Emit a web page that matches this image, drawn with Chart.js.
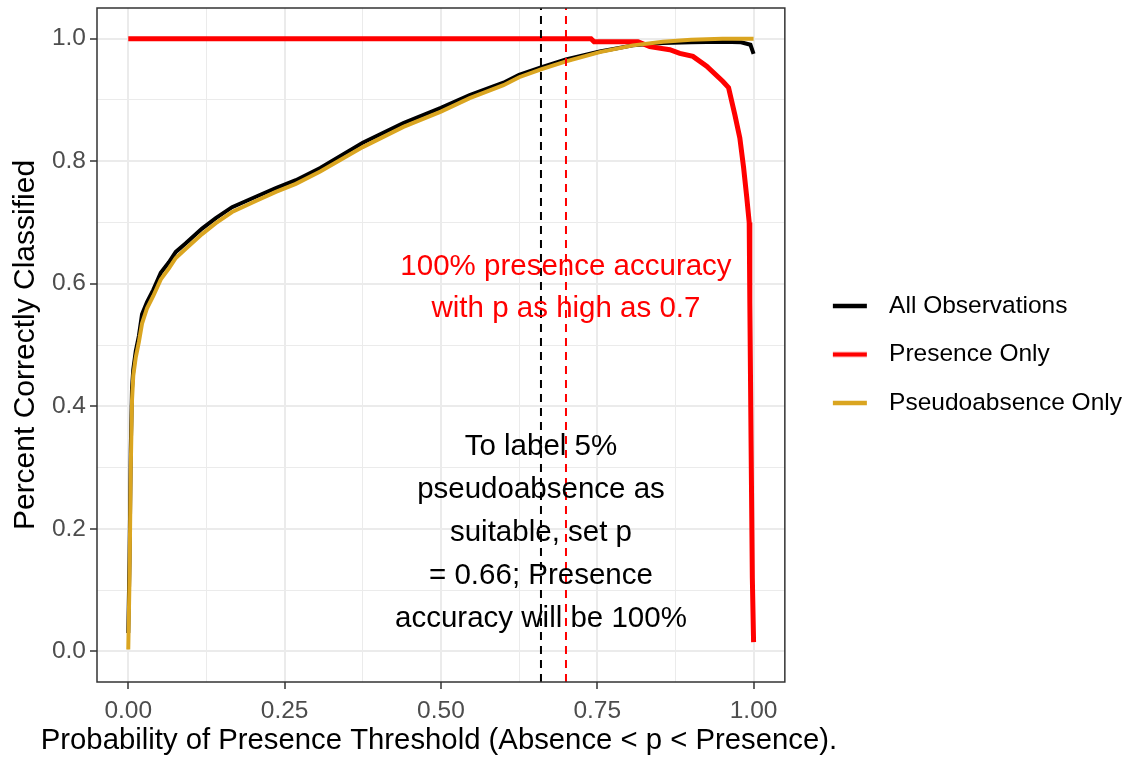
<!DOCTYPE html>
<html>
<head>
<meta charset="utf-8">
<script src="https://cdn.jsdelivr.net/npm/chart.js@4.4.1/dist/chart.umd.min.js"></script>
<style>
  html, body { margin: 0; padding: 0; background: #fff; }
</style>
</head>
<body>
<canvas id="thresholds" width="1132" height="757"></canvas>
<script>
// thresholds shared by the two curves that follow the pseudoabsences
const thresholds = [0, 0.002, 0.004, 0.006, 0.008, 0.012, 0.017, 0.022, 0.03, 0.04, 0.052, 0.065, 0.076, 0.092,
    0.118, 0.14, 0.166, 0.204, 0.236, 0.268, 0.307, 0.375, 0.44, 0.5, 0.546, 0.6, 0.625, 0.66, 0.7, 0.754,
    0.807, 0.855, 0.9, 0.95, 0.98, 0.995, 1.0];
const allObs = [0.03, 0.15, 0.33, 0.43, 0.46, 0.49, 0.515, 0.55, 0.57, 0.59, 0.618, 0.635, 0.652, 0.666,
    0.69, 0.707, 0.725, 0.742, 0.756, 0.769, 0.789, 0.83, 0.862, 0.887, 0.908, 0.928, 0.941, 0.953, 0.966, 0.979,
    0.989, 0.993, 0.994, 0.995, 0.994, 0.99, 0.975];
const pseudoOnly = [0.003, 0.12, 0.3, 0.41, 0.45, 0.48, 0.505, 0.535, 0.56, 0.58, 0.607, 0.625, 0.642, 0.657,
    0.681, 0.699, 0.717, 0.735, 0.75, 0.763, 0.783, 0.823, 0.856, 0.881, 0.903, 0.924, 0.937, 0.95, 0.963, 0.978,
    0.989, 0.995, 0.998, 1.0, 1.0, 1.0, 1.0];

const presenceX = [0, 0.74, 0.745, 0.815, 0.834, 0.866, 0.882, 0.903, 0.925, 0.951, 0.96, 0.97, 0.978,
    0.984, 0.989, 0.993, 0.994, 0.996, 0.998, 1.0];
const presenceY = [1.0, 1.0, 0.995, 0.995, 0.987, 0.982, 0.976, 0.971, 0.955, 0.93, 0.92, 0.876, 0.838,
    0.79, 0.742, 0.70, 0.57, 0.34, 0.12, 0.015];

const seriesNames = ['All Observations', 'Presence Only', 'Pseudoabsence Only'];
const seriesColors = ['#000000', '#ff0000', '#daa520'];

const xMajor = [0, 0.25, 0.5, 0.75, 1];
const xTickLabels = ['0.00', '0.25', '0.50', '0.75', '1.00'];
const xMinor = [0.125, 0.375, 0.625, 0.875];
const yMajor = [0, 0.2, 0.4, 0.6, 0.8, 1.0];
const yTickLabels = ['0.0', '0.2', '0.4', '0.6', '0.8', '1.0'];
const yMinor = [0.1, 0.3, 0.5, 0.7, 0.9];

const xTitle = 'Probability of Presence Threshold (Absence < p < Presence).';

// dashed threshold lines
const cutoffs = [0.66, 0.70];
const cutoffColors = ['#000000', '#ff0000'];

const noteRed = ['100% presence accuracy', 'with p as high as 0.7'];
const noteRedAt = [0.7, 0.6];
const noteBlack = ['To label 5%', 'pseudoabsence as', 'suitable, set p', '= 0.66; Presence', 'accuracy will be 100%'];
const noteBlackAt = [0.66, 0.2];

const FONT = '"Liberation Sans", Arial, sans-serif';
Chart.defaults.font.family = FONT;

const toPoints = (xs, ys) => xs.map((x, i) => ({x: x, y: ys[i]}));

function legendKey(color) {
    const c = document.createElement('canvas');
    c.width = 68;
    c.height = 8;
    const g = c.getContext('2d');
    g.strokeStyle = color;
    g.lineWidth = 4.5;
    g.beginPath();
    g.moveTo(24, 4);
    g.lineTo(58, 4);
    g.stroke();
    return c;
}

const extras = {
    id: 'extras',
    afterDatasetsDraw(chart) {
        const {ctx, chartArea, scales: {x, y}} = chart;
        ctx.save();
        cutoffs.forEach((v, i) => {
            const px = x.getPixelForValue(v);
            ctx.strokeStyle = cutoffColors[i];
            ctx.lineWidth = 2;
            ctx.setLineDash([8, 6]);
            ctx.beginPath();
            ctx.moveTo(px, chartArea.bottom);
            ctx.lineTo(px, chartArea.top);
            ctx.stroke();
        });
        ctx.setLineDash([]);

        ctx.font = '29.5px ' + FONT;
        ctx.textAlign = 'center';
        ctx.textBaseline = 'middle';
        const writeNote = (lines, at, color, gap) => {
            const cx = x.getPixelForValue(at[0]);
            const cy = y.getPixelForValue(at[1]) + 4;
            ctx.fillStyle = color;
            lines.forEach((t, i) => {
                ctx.fillText(t, cx, cy + (i - (lines.length - 1) / 2) * gap);
            });
        };
        writeNote(noteRed, noteRedAt, '#ff0000', 42);
        writeNote(noteBlack, noteBlackAt, '#000000', 43);

        ctx.strokeStyle = '#333333';
        ctx.lineWidth = 1.5;
        ctx.strokeRect(chartArea.left, chartArea.top, chartArea.width, chartArea.height);

        // x title drawn here so it is not squeezed to the panel width
        ctx.font = '29.3px ' + FONT;
        ctx.fillStyle = '#000000';
        ctx.fillText(xTitle, (chartArea.left + chartArea.right) / 2 - 2, chart.height - 16);
        ctx.restore();
    }
};

const isMajor = (list, c) => c.tick && list.includes(c.tick.value);

new Chart(document.getElementById('thresholds'), {
    type: 'line',
    data: {
        datasets: [{
            label: seriesNames[0],
            data: toPoints(thresholds, allObs),
            borderColor: seriesColors[0],
            backgroundColor: seriesColors[0],
            borderWidth: 4,
            order: 3
        }, {
            label: seriesNames[1],
            data: toPoints(presenceX, presenceY),
            borderColor: seriesColors[1],
            backgroundColor: seriesColors[1],
            borderWidth: 5,
            order: 2
        }, {
            label: seriesNames[2],
            data: toPoints(thresholds, pseudoOnly),
            borderColor: seriesColors[2],
            backgroundColor: seriesColors[2],
            borderWidth: 4,
            order: 1
        }]
    },
    options: {
        responsive: false,
        animation: false,
        elements: {
            point: { radius: 0 },
            line: { tension: 0, fill: false }
        },
        layout: {
            padding: { top: 8, right: 0, bottom: 0, left: 0 }
        },
        plugins: {
            tooltip: { enabled: false },
            legend: {
                position: 'right',
                fullSize: false,
                maxWidth: 400,
                title: { display: true, text: '', padding: 0, font: { size: 19, lineHeight: 1 } },
                labels: {
                    usePointStyle: true,
                    pointStyleWidth: 68,
                    padding: 24,
                    color: '#000000',
                    font: { size: 24.5 },
                    sort: (a, b) => a.datasetIndex - b.datasetIndex,
                    generateLabels(chart) {
                        const items = Chart.defaults.plugins.legend.labels.generateLabels(chart);
                        items.forEach(it => { it.pointStyle = legendKey(seriesColors[it.datasetIndex]); });
                        return items;
                    }
                }
            }
        },
        scales: {
            x: {
                type: 'linear',
                min: -0.05,
                max: 1.05,
                afterBuildTicks: s => { s.ticks = xMajor.concat(xMinor).sort((a, b) => a - b).map(v => ({value: v})); },
                afterFit: s => { s.height = 75; s.paddingLeft = 0; s.paddingRight = 0; },
                border: { display: false },
                grid: {
                    color: '#ebebeb',
                    lineWidth: c => isMajor(xMajor, c) ? 2 : 1,
                    tickLength: 7,
                    tickWidth: 1.5,
                    tickColor: c => isMajor(xMajor, c) ? '#333333' : 'rgba(0,0,0,0)'
                },
                ticks: {
                    autoSkip: false,
                    maxRotation: 0,
                    padding: 8,
                    color: '#4d4d4d',
                    font: { size: 24.5 },
                    callback: v => { const i = xMajor.indexOf(v); return i < 0 ? '' : xTickLabels[i]; }
                }
            },
            y: {
                type: 'linear',
                min: -0.05,
                max: 1.05,
                afterBuildTicks: s => { s.ticks = yMajor.concat(yMinor).sort((a, b) => a - b).map(v => ({value: v})); },
                afterFit: s => { s.width = 97; s.paddingTop = 0; s.paddingBottom = 0; },
                border: { display: false },
                grid: {
                    color: '#ebebeb',
                    lineWidth: c => isMajor(yMajor, c) ? 2 : 1,
                    tickLength: 7,
                    tickWidth: 1.5,
                    tickColor: c => isMajor(yMajor, c) ? '#333333' : 'rgba(0,0,0,0)'
                },
                ticks: {
                    autoSkip: false,
                    padding: 4,
                    color: '#4d4d4d',
                    font: { size: 24.5 },
                    callback: v => { const i = yMajor.indexOf(v); return i < 0 ? '' : yTickLabels[i]; }
                },
                title: {
                    display: true,
                    text: 'Percent Correctly Classified',
                    color: '#000000',
                    font: { size: 30, lineHeight: 1 },
                    padding: { top: 10.5, bottom: 0 }
                }
            }
        }
    },
    plugins: [extras]
});
</script>
</body>
</html>
